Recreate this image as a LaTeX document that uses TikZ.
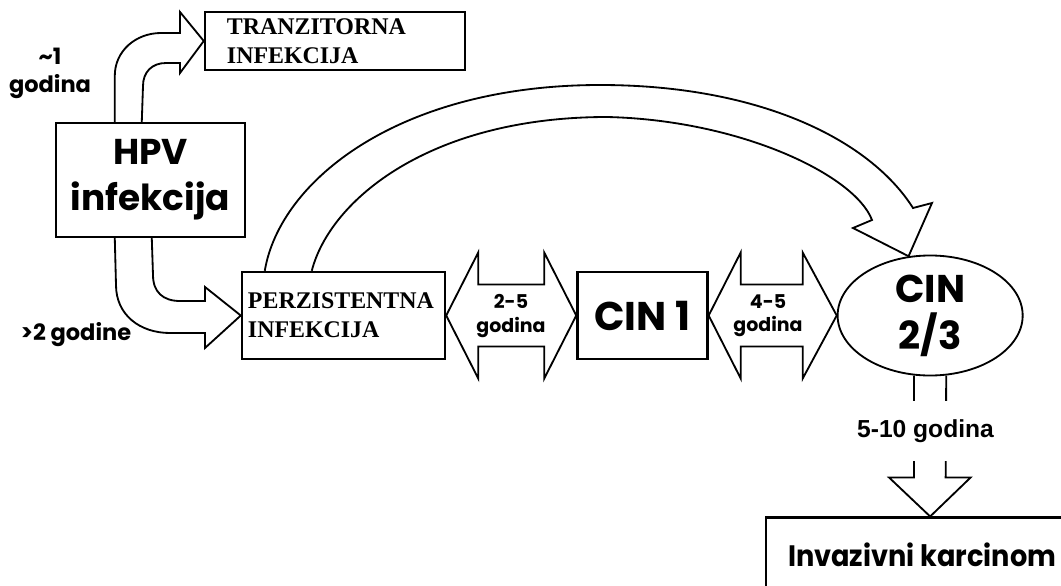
\documentclass[tikz,border=0pt]{standalone}
\usepackage{fontspec}
\newfontfamily\geofont{Poppins}
\newfontfamily\geonarrow{Poppins}[FakeStretch=0.92]
\newfontfamily\arialfont{Liberation Sans}[BoldFont={Liberation Sans Bold}]
\newfontfamily\romanfont{Liberation Serif}
\usetikzlibrary{shapes.geometric, positioning, calc}

\begin{document}
\begin{tikzpicture}[x=0.025cm, y=-0.025cm, line join=miter,
  box/.style={draw, line width=1.7pt, inner sep=0pt},
  fat/.style={draw, line width=1.3pt},
  serif/.style={font=\romanfont\bfseries\fontsize{17}{20.5}\selectfont, align=left},
  label/.style={font=\geofont\bfseries\fontsize{16}{20}\selectfont, align=center, inner sep=0pt}]

\useasboundingbox (0,0) rectangle (1061,586);
\clip (0,0) rectangle (1061,586);

\node[box, serif, minimum width=6.5cm, minimum height=1.45cm, text width=5.4cm] (tr) at (335,41) {TRANZITORNA\\INFEKCIJA};
\node[box, minimum width=4.725cm, minimum height=2.85cm, align=center,
  font=\geofont\bfseries\fontsize{25.5}{32.7}\selectfont] (hpv) at (150.5,180) {HPV\\infekcija};
\node[box, serif, minimum width=5.075cm, minimum height=2.175cm, text width=4.775cm] (pz) at (343.5,315.5) {PERZISTENTNA\\INFEKCIJA};
\node[box, right=3.25cm of pz, minimum width=3.25cm, minimum height=2.175cm,
  font=\geofont\bfseries\fontsize{28.5}{34}\selectfont] (cin1) {CIN 1};
\node[draw, ellipse, line width=1.3pt, inner sep=0pt, right=3.2cm of cin1, minimum width=4.625cm, minimum height=3cm,
  align=center, font=\geofont\bfseries\fontsize{27.5}{33.4}\selectfont] (cin23) {CIN\\2/3};
\node[box, below=3.5cm of cin23, minimum width=8.2cm, minimum height=1.875cm,
  font=\geonarrow\bfseries\fontsize{21}{25}\selectfont] (inv) {Invazivni karcinom\hspace*{0.4cm}};

% HPV -> tranzitorna / perzistentna
\draw[fat] ($(hpv.north west)+(60,0)$) -- ++(0,-46) .. controls +(0,-25) and (136,33) .. (161,33)
  -- (180,33) -- (180,12) -- (tr.west) -- (180,73) -- (180,63) -- (166,63)
  .. controls (152,63) and (143,72) .. (143,86) -- ($(hpv.north west)+(87,0)$);
\draw[fat] ($(hpv.south west)+(60,0)$) -- (116,285) .. controls (116,315) and (140,333) .. (170,333)
  -- (205,333) -- (205,348) -- (pz.west) -- (205,287) -- (205,301) -- (180,301)
  .. controls (163,301) and (153,292) .. (153,275) -- ($(hpv.south west)+(97,0)$);

% perzistentna -> CIN 2/3
\draw[fat] ($(pz.north west)+(24,0)$) .. controls (280,180) and (400,85) .. (600,85)
  .. controls (760,85) and (870,140) .. (913,208) -- (932,203) -- (cin23.110) -- (853,228) -- (872,220)
  .. controls (855,175) and (740,120) .. (607,117) .. controls (430,117) and (330,200) .. ($(pz.north west)+(71,0)$);

% double arrows
\draw[fat] (pz.east) -- ++(32,-63) -- ++(0,32) -- ++(66,0) -- ++(0,-32) -- (cin1.west)
  -- ++(-32,63) -- ++(0,-32) -- ++(-66,0) -- ++(0,32) -- cycle;
\draw[fat] (cin1.east) -- ++(32,-63) -- ++(0,32) -- ++(62,0) -- ++(0,-32) -- (cin23.west)
  -- ++(-34,63) -- ++(0,-32) -- ++(-62,0) -- ++(0,32) -- cycle;

% CIN 2/3 -> invazivni karcinom
\draw[fat] (cin23.255) -- ++(0,102) -- ++(-25,0) -- (inv.north) -- ($(inv.north)+(40.5,-39)$)
  -- ++(-25,0) -- (cin23.285);

\node[label] (g1) at (50,73) {\textasciitilde1\\godina};
\node[label] (g2) at (76,335) {>2 godine};
\node[label, font=\geofont\bfseries\fontsize{13.5}{16.4}\selectfont] (g3) at (511,316) {2-5\\godina};
\node[label, font=\geofont\bfseries\fontsize{13.5}{16.4}\selectfont] (g4) at (768,316) {4-5\\godina};
\node[fill=white, inner xsep=2pt, minimum height=1.475cm, font=\arialfont\bfseries\fontsize{17.5}{20}\selectfont] (g5) at (925.5,431) {5-10 godina};
\end{tikzpicture}
\end{document}
